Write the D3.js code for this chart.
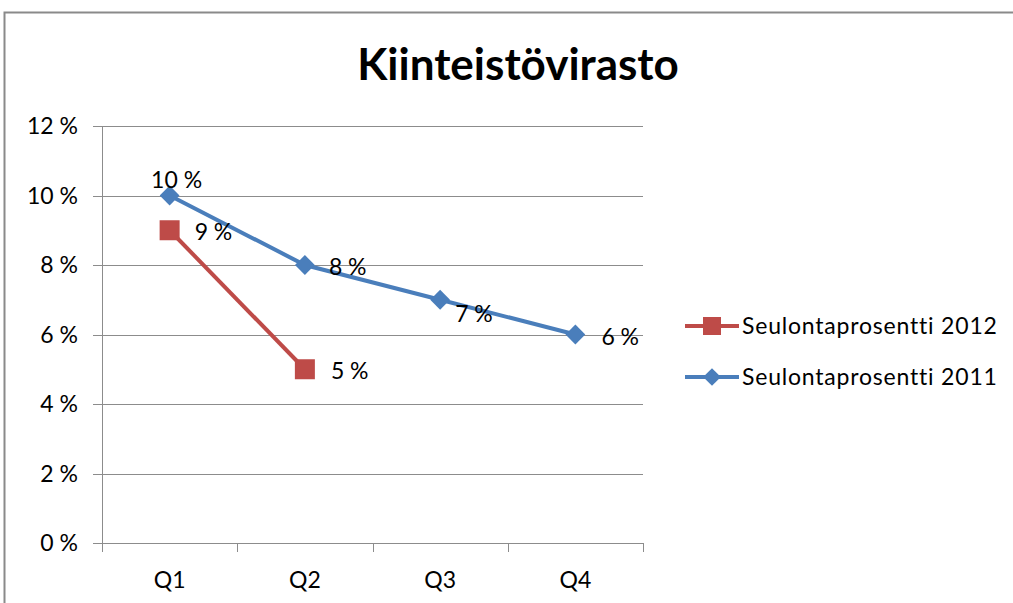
<!DOCTYPE html>
<html>
<head>
<meta charset="utf-8">
<script src="https://cdn.jsdelivr.net/npm/d3@7"></script>
<style>
  body { margin: 0; background: #fff; }
  text { font-family: Lato, "Open Sans", sans-serif; fill: #000; }
</style>
</head>
<body>
<svg id="chart" width="1013" height="603"></svg>
<script>
// chart data
const quarters = ["Q1", "Q2", "Q3", "Q4"];
const values2012 = [9, 5];
const values2011 = [10, 8, 7, 6];
const yTicks = [0, 2, 4, 6, 8, 10, 12];
const seriesNames = ["Seulontaprosentti 2012", "Seulontaprosentti 2011"];
const chartTitle = "Kiinteistövirasto";

const red = "#be4b48", blue = "#4a7ebb";

const svg = d3.select("#chart");

// outer frame
svg.append("rect")
    .attr("x", 4.5).attr("y", 12.5)
    .attr("width", 1020).attr("height", 620)
    .attr("fill", "none").attr("stroke", "#8a8a8a").attr("stroke-width", 2);

svg.append("text")
    .attr("x", 518).attr("y", 80)
    .attr("text-anchor", "middle")
    .style("font-size", "44px").style("font-weight", "bold")
    .text(chartTitle);

const plotLeft = 102, plotRight = 643, plotTop = 126, plotBottom = 543;

const x = d3.scaleBand().domain(quarters).range([plotLeft, plotRight]);
const y = d3.scaleLinear().domain([0, 12]).range([plotBottom, plotTop]);

// gridlines
svg.append("g").selectAll("line")
    .data(yTicks)
    .join("line")
    .attr("x1", plotLeft - 9).attr("x2", plotRight)
    .attr("y1", d => Math.round(y(d)) + 0.5).attr("y2", d => Math.round(y(d)) + 0.5)
    .attr("stroke", "#8c8c8c").attr("stroke-width", 1);

// y axis line
svg.append("line")
    .attr("x1", plotLeft + 0.5).attr("x2", plotLeft + 0.5)
    .attr("y1", plotTop).attr("y2", plotBottom)
    .attr("stroke", "#8c8c8c");

// x axis ticks
const xTickPos = quarters.map(q => x(q)).concat([plotRight]);
svg.append("g").selectAll("line")
    .data(xTickPos)
    .join("line")
    .attr("x1", d => Math.round(d) + 0.5).attr("x2", d => Math.round(d) + 0.5)
    .attr("y1", plotBottom).attr("y2", plotBottom + 9)
    .attr("stroke", "#8c8c8c");

// y labels
svg.append("g").selectAll("text")
    .data(yTicks)
    .join("text")
    .attr("x", 78).attr("y", d => y(d) + 8)
    .attr("text-anchor", "end")
    .style("font-size", "23px")
    .text(d => d + " %");

// x labels
svg.append("g").selectAll("text")
    .data(quarters)
    .join("text")
    .attr("x", d => x(d) + x.bandwidth() / 2).attr("y", 588)
    .attr("text-anchor", "middle")
    .style("font-size", "23px")
    .text(d => d);

const cx = i => x(quarters[i]) + x.bandwidth() / 2;
const line = d3.line().x((d, i) => cx(i)).y(d => y(d));

// 2011 series
svg.append("path")
    .datum(values2011)
    .attr("d", line)
    .attr("fill", "none").attr("stroke", blue).attr("stroke-width", 4);

const diamond = d3.symbol().type(d3.symbolDiamond2).size(250);
svg.append("g").selectAll("path")
    .data(values2011)
    .join("path")
    .attr("d", diamond)
    .attr("transform", (d, i) => `translate(${cx(i)},${y(d)})`)
    .attr("fill", blue);

// 2012 series
svg.append("path")
    .datum(values2012)
    .attr("d", line)
    .attr("fill", "none").attr("stroke", red).attr("stroke-width", 4);

svg.append("g").selectAll("rect")
    .data(values2012)
    .join("rect")
    .attr("x", (d, i) => cx(i) - 10).attr("y", d => y(d) - 10)
    .attr("width", 20).attr("height", 20)
    .attr("fill", red);

// data labels
const lblOff2011 = [[7, -8], [24, 10], [15, 22], [26, 10]];
const lblOff2012 = [[25, 10], [26, 10]];
svg.append("g").selectAll("text")
    .data(values2011)
    .join("text")
    .attr("x", (d, i) => cx(i) + lblOff2011[i][0])
    .attr("y", (d, i) => y(d) + lblOff2011[i][1])
    .attr("text-anchor", (d, i) => i === 0 ? "middle" : "start")
    .style("font-size", "23px")
    .text(d => d + " %");
svg.append("g").selectAll("text")
    .data(values2012)
    .join("text")
    .attr("x", (d, i) => cx(i) + lblOff2012[i][0])
    .attr("y", (d, i) => y(d) + lblOff2012[i][1])
    .style("font-size", "23px")
    .text(d => d + " %");

// legend
const legend = svg.append("g").selectAll("g")
    .data(seriesNames)
    .join("g")
    .attr("transform", (d, i) => `translate(685,${326 + i * 51})`);
legend.append("line")
    .attr("x1", 0).attr("x2", 54)
    .attr("stroke", (d, i) => i === 0 ? red : blue).attr("stroke-width", 4);
legend.filter((d, i) => i === 0).append("rect")
    .attr("x", 18).attr("y", -9).attr("width", 18).attr("height", 18).attr("fill", red);
legend.filter((d, i) => i === 1).append("path")
    .attr("d", d3.symbol().type(d3.symbolDiamond2).size(200))
    .attr("transform", "translate(27,0)").attr("fill", blue);
legend.append("text")
    .attr("x", 57).attr("y", 8)
    .style("font-size", "23px").style("letter-spacing", "0.8px")
    .text(d => d);
</script>
</body>
</html>
